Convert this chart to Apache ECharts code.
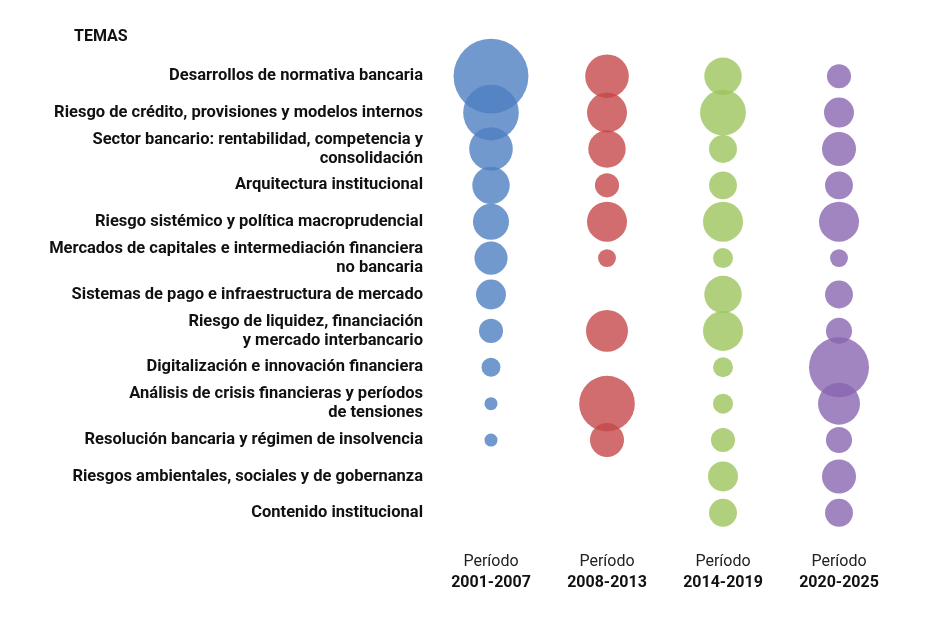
<!DOCTYPE html>
<html>
<head>
<meta charset="utf-8">
<script src="https://cdn.jsdelivr.net/npm/echarts@6/dist/echarts.min.js"></script>
<style>*{margin:0;padding:0}#main{width:936px;height:620px}</style>
</head>
<body>
<div id="main"></div>
<script>
var temas = ['Desarrollos de normativa bancaria',
  'Riesgo de crédito, provisiones y modelos internos',
  'Sector bancario: rentabilidad, competencia y\nconsolidación',
  'Arquitectura institucional',
  'Riesgo sistémico y política macroprudencial',
  'Mercados de capitales e intermediación financiera\nno bancaria',
  'Sistemas de pago e infraestructura de mercado',
  'Riesgo de liquidez, financiación\ny mercado interbancario',
  'Digitalización e innovación financiera',
  'Análisis de crisis financieras y períodos\nde tensiones',
  'Resolución bancaria y régimen de insolvencia',
  'Riesgos ambientales, sociales y de gobernanza',
  'Contenido institucional'];
var periodos = ['2001-2007', '2008-2013', '2014-2019', '2020-2025'];
// relative weight (area) per theme, null = no bubble
var p1 = [56, 31, 19, 14, 13, 11, 9, 5.8, 3.6, 1.7, 1.7, null, null];
var p2 = [19, 16, 14, 5.8, 16, 3.2, null, 17.6, null, 31, 11.6, null, null];
var p3 = [14, 21, 7.8, 7.8, 16, 4, 14, 16, 4, 4, 5.8, 9, 7.8];
var p4 = [5.8, 9, 11.6, 7.8, 16, 3.2, 7.8, 6.8, 36, 17.6, 6.8, 11.6, 7.8];
var colores = ['#4f80c2', '#c6484a', '#9ec45c', '#8a67b0'];

var all = [p1, p2, p3, p4];
var series = all.map(function (arr, i) {
  var data = [];
  arr.forEach(function (v, j) { if (v != null) data.push([i, j, v]); });
  return {
    type: 'scatter', data: data,
    symbolSize: function (d) { return Math.sqrt(d[2]) * 10; },
    itemStyle: { color: colores[i], opacity: 0.8 }
  };
});

var chart = echarts.init(document.getElementById('main'));
chart.setOption({
  animation: false,
  graphic: [{ type: 'text', left: 74, top: 29,
    style: { text: 'TEMAS', font: 'bold 16px Roboto', fill: '#111' } }],
  grid: { left: 433, right: 39, top: 58, bottom: 89 },
  xAxis: {
    type: 'category', data: periodos,
    axisLine: { show: false }, axisTick: { show: false },
    axisLabel: {
      margin: 20,
      formatter: function (v) { return '{a|Período}\n{b|' + v + '}'; },
      rich: {
        a: { fontFamily: 'Roboto', fontSize: 16, color: '#222', lineHeight: 21 },
        b: { fontFamily: 'Roboto', fontSize: 16, fontWeight: 'bold', color: '#111', lineHeight: 21 }
      }
    }
  },
  yAxis: {
    type: 'category', data: temas, inverse: true,
    axisLine: { show: false }, axisTick: { show: false }, splitLine: { show: false },
    axisLabel: { margin: 10, fontFamily: 'Roboto', fontSize: 16.5, fontWeight: 'bold',
      color: '#111', lineHeight: 19, align: 'right' }
  },
  series: series
});
</script>
</body>
</html>
